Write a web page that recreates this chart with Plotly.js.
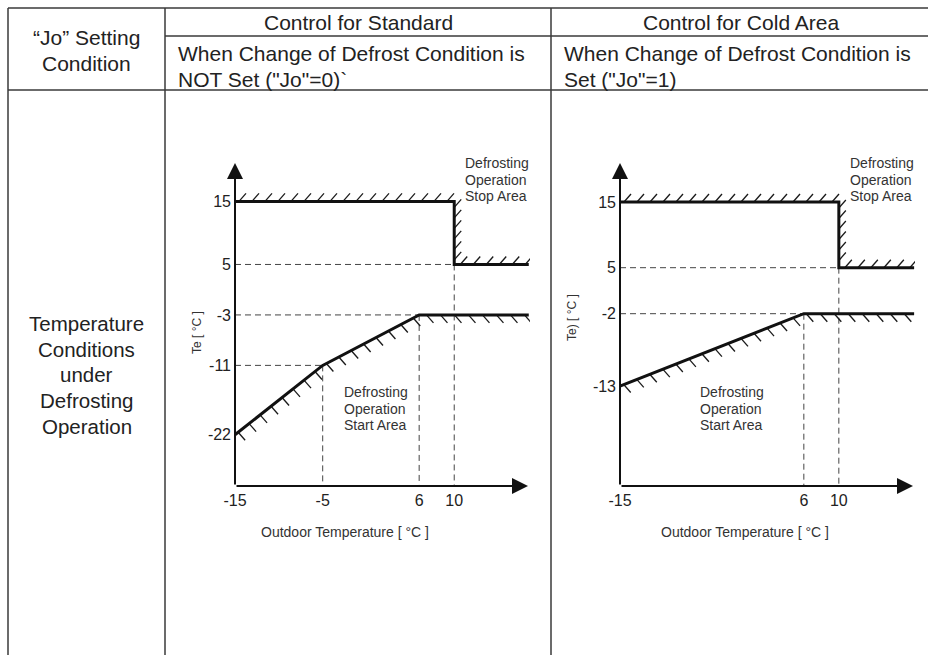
<!DOCTYPE html>
<html>
<head>
<meta charset="utf-8">
<script src="https://cdn.plot.ly/plotly-3.0.1.min.js"></script>
<style>html,body{margin:0;padding:0;background:#fff;}#chart{width:928px;height:655px;}</style>
</head>
<body>
<div id="chart"></div>
<script>
// ---------- data ----------
const headerCols = ["Control for Standard", "Control for Cold Area"];
const subHeader1 = ["When Change of Defrost Condition is", "NOT Set (\"Jo\"=0)`"];
const subHeader2 = ["When Change of Defrost Condition is", "Set (\"Jo\"=1)"];
const rowHead1 = ["\u201CJo\u201D Setting", "Condition"];
const rowHead2 = ["Temperature", "Conditions", "under", "Defrosting", "Operation"];
const stopLabel = ["Defrosting", "Operation", "Stop Area"];
const startLabel = ["Defrosting", "Operation", "Start Area"];
const xTitle = "Outdoor Temperature [ \u00B0C ]";
const yTitle1 = "Te [ \u00B0C ]";
const yTitle2 = "Te) [ \u00B0C ]";

// chart 1 (standard)
const c1TickX = [-15, -5, 6, 10];
const c1TickY = [15, 5, -3, -11, -22];
const c1StopX = [-15, 10, 10, 18.5];
const c1StopY = [15, 15, 5, 5];
const c1StartX = [-15, -5, 6, 18.5];
const c1StartY = [-22, -11, -3, -3];
// chart 2 (cold area)
const c2TickX = [-15, 6, 10];
const c2TickY = [15, 5, -2, -13];
const c2StopX = [-15, 10, 10, 18.6];
const c2StopY = [15, 15, 5, 5];
const c2StartX = [-15, 6, 18.6];
const c2StartY = [-13, -2, -2];

// ---------- layout geometry ----------
const W = 928, H = 655;
const FONT = "Liberation Sans, Arial, sans-serif";
const TXT = "#222";
const px = v => v / W;
const py = v => 1 - v / H;

const charts = [
  {xa: "x", ya: "y", xPx: [235, 530], yPx: [160, 486], xr: [-15, 18.64], yr: [-30.12, 21.56],
   tx: c1TickX, ty: c1TickY, sx: c1StopX, sy: c1StopY, bx: c1StartX, by: c1StartY,
   stopPos: [463, 163], startPos: [342, 392], xtPos: [344.5, 532], ytPos: [197, 333], yt: yTitle1},
  {xa: "x2", ya: "y2", xPx: [620, 915], yPx: [160, 486], xr: [-15, 18.70], yr: [-28.22, 21.39],
   tx: c2TickX, ty: c2TickY, sx: c2StopX, sy: c2StopY, bx: c2StartX, by: c2StartY,
   stopPos: [848, 163], startPos: [698, 392], xtPos: [745, 532], ytPos: [572, 318], yt: yTitle2}
];

const traces = [];
const shapes = [];
const annotations = [];
const layout = {
  width: W, height: H, margin: {l: 0, r: 0, t: 0, b: 0},
  paper_bgcolor: "#fff", plot_bgcolor: "rgba(0,0,0,0)", showlegend: false,
  font: {family: FONT, color: TXT},
  shapes: shapes, annotations: annotations
};

function hatchTrace(cx, xs, ys, dirUp, spacing) {
  const kx = (cx.xPx[1] - cx.xPx[0]) / (cx.xr[1] - cx.xr[0]);
  const ky = (cx.yPx[1] - cx.yPx[0]) / (cx.yr[1] - cx.yr[0]);
  const hx = [], hy = [];
  let carry = 4;
  for (let i = 0; i < xs.length - 1; i++) {
    const x0 = xs[i] * kx, y0 = -ys[i] * ky, x1 = xs[i + 1] * kx, y1 = -ys[i + 1] * ky;
    const len = Math.hypot(x1 - x0, y1 - y0);
    const vertical = Math.abs(x1 - x0) < 0.5;
    const sp = vertical ? 10.5 : spacing;
    let d = vertical ? 6 : carry;
    while (d < len - 2) {
      const t = d / len;
      const bx = xs[i] + (xs[i + 1] - xs[i]) * t;
      const by = ys[i] + (ys[i + 1] - ys[i]) * t;
      hx.push(bx, bx + 7 / kx, null);
      hy.push(by, by + (dirUp ? 8 : -8) / ky, null);
      d += sp;
    }
    carry = vertical ? 6 : Math.max(2, d - len);
  }
  return {x: hx, y: hy, xaxis: cx.xa, yaxis: cx.ya, mode: "lines", hoverinfo: "skip",
          line: {color: "#1a1a1a", width: 1.3}, connectgaps: false};
}

charts.forEach((c, ci) => {
  const xk = ci === 0 ? "xaxis" : "xaxis2";
  const yk = ci === 0 ? "yaxis" : "yaxis2";
  layout[xk] = {domain: [px(c.xPx[0]), px(c.xPx[1])], range: c.xr, anchor: c.ya,
    tickvals: c.tx, ticktext: c.tx.map(String), ticks: "", ticklabelstandoff: 3,
    showgrid: false, zeroline: false, showline: false, fixedrange: true,
    tickfont: {size: 16, family: FONT, color: TXT}};
  layout[yk] = {domain: [py(c.yPx[1]), py(c.yPx[0])], range: c.yr, anchor: c.xa,
    tickvals: c.ty, ticktext: c.ty.map(String), ticks: "", ticklabelstandoff: 3,
    showgrid: false, zeroline: false, showline: false, fixedrange: true,
    tickfont: {size: 16, family: FONT, color: TXT}};

  const xmin = c.xr[0], ybot = c.yr[0];
  // dashed guides from breakpoints
  const guides = [[c.sx[2], c.sy[2]]];
  for (let i = 1; i < c.bx.length - 1; i++) guides.push([c.bx[i], c.by[i]]);
  guides.forEach(g => {
    traces.push({x: [xmin, g[0], null, g[0], g[0]], y: [g[1], g[1], null, g[1], ybot],
      xaxis: c.xa, yaxis: c.ya, mode: "lines", hoverinfo: "skip",
      line: {color: "#444", width: 1, dash: "6px,4px"}});
  });
  // hatches
  traces.push(hatchTrace(c, c.sx, c.sy, true, 13));
  traces.push(hatchTrace(c, c.bx, c.by, false, 14));
  // boundaries
  traces.push({x: c.sx, y: c.sy, xaxis: c.xa, yaxis: c.ya, mode: "lines", hoverinfo: "skip",
    line: {color: "#111", width: 3}});
  traces.push({x: c.bx, y: c.by, xaxis: c.xa, yaxis: c.ya, mode: "lines", hoverinfo: "skip",
    line: {color: "#111", width: 3}});

  // axis arrows
  const xTip = c.xr[0] + (c.xPx[1] - 2 - c.xPx[0]) / (c.xPx[1] - c.xPx[0]) * (c.xr[1] - c.xr[0]);
  const yTip = c.yr[1] - 3 / (c.yPx[1] - c.yPx[0]) * (c.yr[1] - c.yr[0]);
  annotations.push({x: xmin, y: yTip, ax: xmin, ay: ybot, xref: c.xa, yref: c.ya, axref: c.xa, ayref: c.ya,
    showarrow: true, arrowhead: 2, arrowsize: 1.6, arrowwidth: 2, arrowcolor: "#111", text: ""});
  annotations.push({x: xTip, y: ybot, ax: xmin, ay: ybot, xref: c.xa, yref: c.ya, axref: c.xa, ayref: c.ya,
    showarrow: true, arrowhead: 2, arrowsize: 1.6, arrowwidth: 2, arrowcolor: "#111", text: ""});

  // labels
  stopLabel.forEach((t, i) => annotations.push({text: t, xref: "paper", yref: "paper",
    x: px(c.stopPos[0]), y: py(c.stopPos[1] + i * 16.5), xanchor: "left", yanchor: "middle",
    showarrow: false, font: {size: 14, family: FONT, color: "#333"}}));
  startLabel.forEach((t, i) => annotations.push({text: t, xref: "paper", yref: "paper",
    x: px(c.startPos[0]), y: py(c.startPos[1] + i * 16.5), xanchor: "left", yanchor: "middle",
    showarrow: false, font: {size: 14, family: FONT, color: "#333"}}));
  annotations.push({text: xTitle, xref: "paper", yref: "paper", x: px(c.xtPos[0]), y: py(c.xtPos[1]),
    xanchor: "center", yanchor: "middle", showarrow: false, font: {size: 14, family: FONT, color: "#333"}});
  annotations.push({text: c.yt, xref: "paper", yref: "paper", x: px(c.ytPos[0]), y: py(c.ytPos[1]),
    xanchor: "center", yanchor: "middle", textangle: -90, showarrow: false,
    font: {size: 12, family: FONT, color: "#333"}});
});

// ---------- table ----------
const lineC = {color: "#3a3a3a", width: 1.5};
function hline(y, x0, x1) { shapes.push({type: "line", xref: "paper", yref: "paper", x0: px(x0), x1: px(x1), y0: py(y), y1: py(y), line: lineC}); }
function vline(x, y0, y1) { shapes.push({type: "line", xref: "paper", yref: "paper", x0: px(x), x1: px(x), y0: py(y0), y1: py(y1), line: lineC}); }
hline(8, 8, 928);
hline(36, 165, 928);
hline(90, 8, 928);
vline(8, 8, 655);
vline(165, 8, 655);
vline(551, 8, 655);

function txt(t, x, y, size, anchor) {
  annotations.push({text: t, xref: "paper", yref: "paper", x: px(x), y: py(y), xanchor: anchor || "center",
    yanchor: "middle", showarrow: false, font: {size: size, family: FONT, color: TXT}});
}
txt(headerCols[0], 358, 22.5, 21);
txt(headerCols[1], 741, 22.5, 21);
subHeader1.forEach((t, i) => txt(t, 176, 53 + i * 27, 21, "left"));
subHeader2.forEach((t, i) => txt(t, 562, 53 + i * 27, 21, "left"));
rowHead1.forEach((t, i) => txt(t, 86.5, 37 + i * 26, 21));
rowHead2.forEach((t, i) => txt(t, 86.5, 323.5 + i * 25.7, 20.5));

Plotly.newPlot("chart", traces, layout, {staticPlot: true});
</script>
</body>
</html>
